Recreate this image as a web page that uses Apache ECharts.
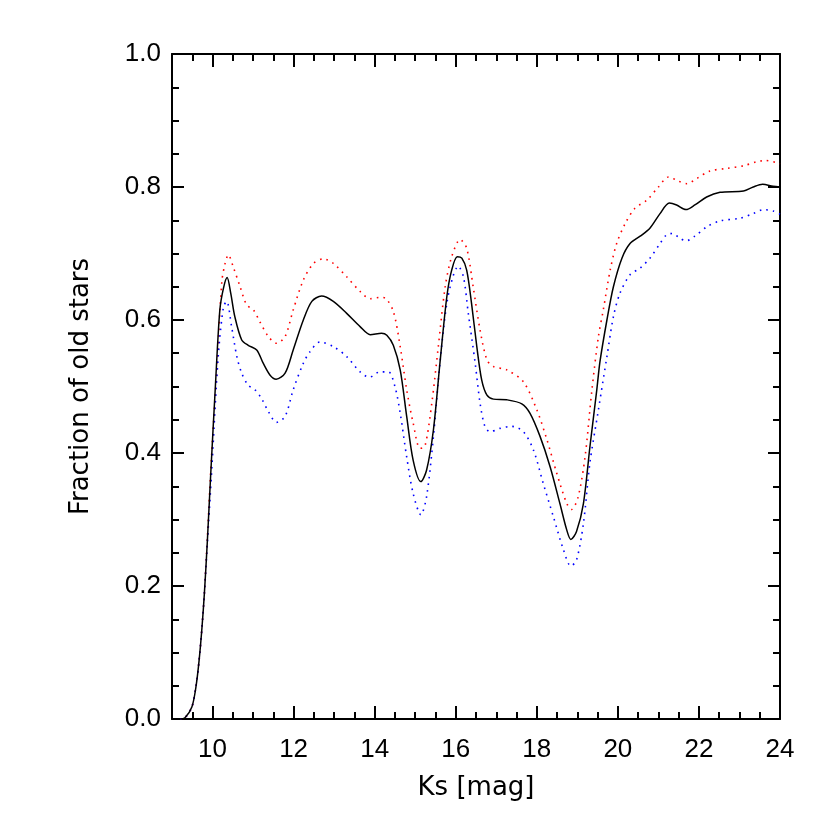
<!DOCTYPE html>
<html>
<head>
<meta charset="utf-8">
<script src="https://cdn.jsdelivr.net/npm/echarts@6/dist/echarts.min.js"></script>
<style>html,body{margin:0;padding:0;background:#fff}#chart{width:830px;height:830px}</style>
</head>
<body>
<div id="chart"></div>
<script>
// ---- data ----
const xTicks = [10, 12, 14, 16, 18, 20, 22, 24];
const yTicks = [0.0, 0.2, 0.4, 0.6, 0.8, 1.0];

const meanX = [9.2, 9.32, 9.49, 9.59, 9.67, 9.74, 9.80, 9.87, 9.955, 10.07, 10.18, 10.27, 10.36, 10.45, 10.55, 10.72, 10.88, 11.09, 11.25, 11.42, 11.57, 11.79, 11.99, 12.24, 12.45, 12.69, 12.98, 13.31, 13.64, 13.89, 14.17, 14.3, 14.46, 14.63, 14.79, 14.95, 15.14, 15.28, 15.45, 15.61, 15.78, 15.90, 16.04, 16.15, 16.27, 16.39, 16.52, 16.64, 16.77, 16.93, 17.26, 17.63, 17.83, 18.08, 18.33, 18.57, 18.74, 18.84, 18.98, 19.15, 19.31, 19.48, 19.56, 19.73, 19.89, 20.10, 20.30, 20.55, 20.79, 21.04, 21.27, 21.45, 21.68, 21.90, 22.19, 22.52, 23.10, 23.34, 23.57, 23.83, 24.0];
const meanY = [0, 0.002, 0.018, 0.048, 0.089, 0.138, 0.19, 0.265, 0.368, 0.50, 0.615, 0.648, 0.664, 0.64, 0.605, 0.570, 0.562, 0.555, 0.535, 0.517, 0.511, 0.520, 0.555, 0.600, 0.628, 0.636, 0.628, 0.610, 0.590, 0.578, 0.580, 0.577, 0.562, 0.525, 0.455, 0.389, 0.357, 0.374, 0.435, 0.535, 0.635, 0.675, 0.695, 0.693, 0.675, 0.625, 0.560, 0.510, 0.487, 0.481, 0.480, 0.474, 0.460, 0.425, 0.379, 0.324, 0.284, 0.270, 0.282, 0.324, 0.409, 0.495, 0.538, 0.600, 0.650, 0.693, 0.715, 0.726, 0.738, 0.760, 0.776, 0.773, 0.766, 0.773, 0.785, 0.792, 0.794, 0.800, 0.804, 0.801, 0.800];

const upperX = [9.2, 9.32, 9.49, 9.59, 9.67, 9.74, 9.80, 9.87, 9.98, 10.10, 10.23, 10.31, 10.39, 10.51, 10.68, 10.84, 11.01, 11.17, 11.38, 11.58, 11.79, 11.99, 12.24, 12.49, 12.73, 12.98, 13.31, 13.64, 13.89, 14.13, 14.26, 14.46, 14.63, 14.79, 14.95, 15.12, 15.24, 15.41, 15.57, 15.74, 15.90, 16.11, 16.27, 16.43, 16.60, 16.77, 16.93, 17.26, 17.67, 18.00, 18.25, 18.49, 18.74, 18.86, 19.02, 19.19, 19.36, 19.52, 19.64, 19.81, 19.97, 20.18, 20.42, 20.71, 21.0, 21.25, 21.49, 21.70, 21.95, 22.27, 22.69, 23.10, 23.43, 23.64, 24.0];
const upperY = [0, 0.002, 0.018, 0.048, 0.089, 0.138, 0.19, 0.27, 0.40, 0.52, 0.658, 0.685, 0.698, 0.680, 0.650, 0.623, 0.615, 0.597, 0.575, 0.565, 0.575, 0.615, 0.660, 0.685, 0.692, 0.685, 0.665, 0.643, 0.632, 0.634, 0.633, 0.613, 0.560, 0.495, 0.445, 0.407, 0.410, 0.475, 0.560, 0.650, 0.695, 0.721, 0.708, 0.650, 0.585, 0.540, 0.530, 0.525, 0.507, 0.465, 0.420, 0.370, 0.324, 0.315, 0.334, 0.394, 0.495, 0.575, 0.615, 0.675, 0.715, 0.745, 0.768, 0.780, 0.800, 0.815, 0.809, 0.805, 0.813, 0.824, 0.828, 0.832, 0.838, 0.840, 0.835];

const lowerX = [9.2, 9.32, 9.49, 9.59, 9.67, 9.74, 9.80, 9.87, 9.98, 10.14, 10.27, 10.35, 10.47, 10.60, 10.72, 10.88, 11.05, 11.21, 11.38, 11.58, 11.79, 11.99, 12.24, 12.40, 12.65, 12.98, 13.31, 13.64, 13.87, 14.13, 14.34, 14.50, 14.63, 14.79, 14.95, 15.14, 15.28, 15.45, 15.61, 15.78, 15.93, 16.06, 16.19, 16.31, 16.48, 16.60, 16.72, 16.85, 17.09, 17.38, 17.67, 17.92, 18.16, 18.41, 18.66, 18.84, 18.98, 19.15, 19.31, 19.52, 19.73, 19.89, 20.05, 20.30, 20.55, 20.79, 21.04, 21.20, 21.35, 21.53, 21.68, 21.90, 22.19, 22.52, 23.01, 23.34, 23.59, 23.83, 24.0];
const lowerY = [0, 0.002, 0.018, 0.048, 0.089, 0.138, 0.19, 0.262, 0.374, 0.545, 0.620, 0.628, 0.590, 0.545, 0.520, 0.502, 0.495, 0.482, 0.462, 0.446, 0.455, 0.495, 0.535, 0.552, 0.567, 0.560, 0.545, 0.522, 0.514, 0.522, 0.522, 0.500, 0.460, 0.394, 0.339, 0.307, 0.334, 0.425, 0.535, 0.625, 0.665, 0.681, 0.665, 0.610, 0.535, 0.475, 0.440, 0.432, 0.437, 0.440, 0.432, 0.404, 0.354, 0.304, 0.254, 0.230, 0.239, 0.294, 0.385, 0.465, 0.545, 0.605, 0.640, 0.668, 0.678, 0.693, 0.715, 0.728, 0.730, 0.723, 0.719, 0.726, 0.740, 0.749, 0.753, 0.760, 0.766, 0.764, 0.759];

const xName = 'Ks [mag]';
const yName = 'Fraction of old stars';

// ---- chart ----
const pairs = (xs, ys) => xs.map((x, i) => [x, ys[i]]);
const TICK_FONT = 'Liberation Sans';
const TITLE_FONT = 'DejaVu Sans';

function xAxisCfg(pos, major) {
  const base = {
    type: 'value', min: 9, max: 24, position: pos, gridIndex: 0,
    splitLine: { show: false },
    axisLine: { show: major, lineStyle: { color: '#000', width: 2 } },
  };
  if (major) {
    base.axisTick = { show: true, inside: true, length: 13, customValues: xTicks, lineStyle: { color: '#000', width: 2 } };
    base.axisLabel = pos === 'bottom'
      ? { show: true, customValues: xTicks, margin: 18, color: '#000', fontFamily: TICK_FONT, fontSize: 26 }
      : { show: false };
  } else {
    base.interval = 0.5;
    base.axisTick = { show: true, inside: true, length: 7, lineStyle: { color: '#000', width: 2 } };
    base.axisLabel = { show: false };
  }
  if (major && pos === 'bottom') {
    base.name = xName;
    base.nameLocation = 'middle';
    base.nameGap = 56;
    base.nameTextStyle = { color: '#000', fontFamily: TITLE_FONT, fontSize: 26 };
  }
  return base;
}

function yAxisCfg(pos) {
  const cfg = {
    type: 'value', min: 0, max: 1, interval: 0.2, position: pos, gridIndex: 0,
    splitLine: { show: false },
    axisLine: { show: true, lineStyle: { color: '#000', width: 2 } },
    axisTick: { show: true, inside: true, length: 12, lineStyle: { color: '#000', width: 2 } },
    minorTick: { show: true, splitNumber: 4, length: 7, lineStyle: { color: '#000', width: 2 } },
    axisLabel: pos === 'left'
      ? { show: true, margin: 11, color: '#000', fontFamily: TICK_FONT, fontSize: 26, formatter: v => v.toFixed(1) }
      : { show: false }
  };
  if (pos === 'left') {
    cfg.name = yName;
    cfg.nameLocation = 'middle';
    cfg.nameGap = 78;
    cfg.nameTextStyle = { color: '#000', fontFamily: TITLE_FONT, fontSize: 26 };
  }
  return cfg;
}

const chart = echarts.init(document.getElementById('chart'), null, { renderer: 'canvas' });
chart.setOption({
  backgroundColor: '#fff',
  animation: false,
  grid: { left: 172, right: 50, top: 54, bottom: 111, containLabel: false },
  xAxis: [xAxisCfg('bottom', true), xAxisCfg('bottom', false), xAxisCfg('top', true), xAxisCfg('top', false)],
  yAxis: [yAxisCfg('left'), yAxisCfg('right')],
  series: [
    { type: 'line', name: 'upper', data: pairs(upperX, upperY), xAxisIndex: 0, yAxisIndex: 0, showSymbol: false, smooth: 0.3,
      lineStyle: { color: '#ff0000', width: 1.6, type: [1.6, 5] } },
    { type: 'line', name: 'lower', data: pairs(lowerX, lowerY), xAxisIndex: 0, yAxisIndex: 0, showSymbol: false, smooth: 0.3,
      lineStyle: { color: '#0000ff', width: 1.6, type: [1.6, 5] } },
    { type: 'line', name: 'mean', data: pairs(meanX, meanY), xAxisIndex: 0, yAxisIndex: 0, showSymbol: false, smooth: 0.3,
      lineStyle: { color: '#000', width: 1.5 } }
  ]
});
</script>
</body>
</html>
